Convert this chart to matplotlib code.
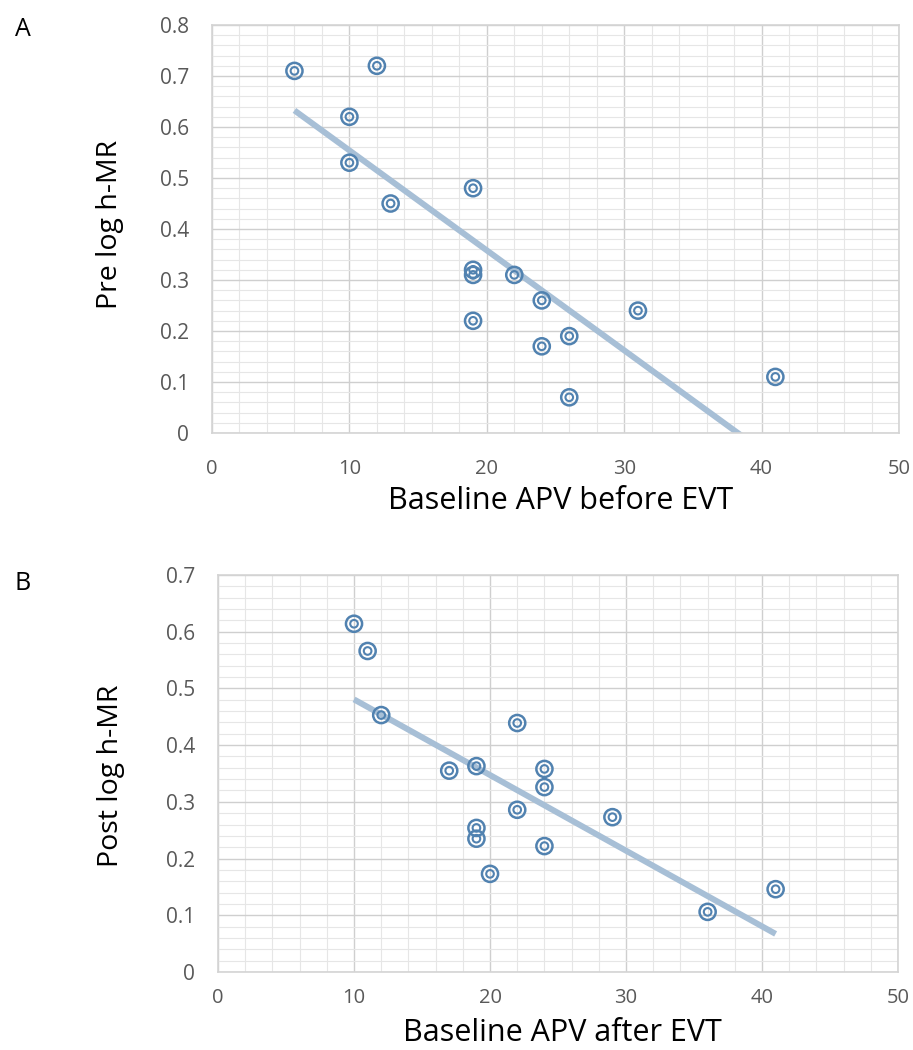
import numpy as np
import matplotlib
matplotlib.use("Agg")
import matplotlib.pyplot as plt
from matplotlib.ticker import MultipleLocator

plt.rcParams['font.family'] = ['Open Sans', 'DejaVu Sans']

# Panel A: baseline APV before EVT vs pre log h-MR
apv_before = [6, 12, 10, 10, 19, 13, 19, 19, 22, 24, 19, 24, 26, 26, 31, 41]
pre_log_hmr = [0.71, 0.72, 0.62, 0.53, 0.48, 0.45, 0.32, 0.31, 0.31, 0.26,
               0.22, 0.17, 0.19, 0.07, 0.24, 0.11]

# Panel B: baseline APV after EVT vs post log h-MR
apv_after = [10, 11, 12, 22, 17, 19, 24, 24, 22, 19, 19, 24, 20, 29, 36, 41]
post_log_hmr = [0.614, 0.566, 0.453, 0.439, 0.355, 0.363, 0.358, 0.326, 0.286,
                0.254, 0.235, 0.222, 0.173, 0.273, 0.106, 0.146]

MARK = '#5182b0'
TREND = '#a7bfd6'
TICK = '#595959'


def draw_panel(ax, x, y, ymax, xlabel, ylabel, xl_pos, yl_pos, xpad):
    x = np.array(x)
    y = np.array(y)

    # Linear trendline (like Excel), from min x to max x
    k, b = np.polyfit(x, y, 1)
    xs = np.array([x.min(), x.max()])
    ax.plot(xs, k * xs + b, color=TREND, lw=4.3, solid_capstyle='butt', zorder=2)

    # double-circle markers
    ax.scatter(x, y, s=135, facecolors='none', edgecolors=MARK, linewidths=1.8, zorder=3)
    ax.scatter(x, y, s=30, facecolors='none', edgecolors=MARK, linewidths=1.5, zorder=3)

    ax.set_xlim(0, 50)
    ax.set_ylim(0, ymax)
    ax.xaxis.set_major_locator(MultipleLocator(10))
    ax.xaxis.set_minor_locator(MultipleLocator(2))
    ax.yaxis.set_major_locator(MultipleLocator(0.1))
    ax.yaxis.set_minor_locator(MultipleLocator(0.02))
    ax.set_yticklabels([f"{v:g}" for v in np.round(ax.get_yticks(), 1)])

    ax.grid(which='major', color='#cfcfcf', lw=1.0, zorder=0)
    ax.grid(which='minor', color='#e6e6e6', lw=0.8, zorder=0)
    ax.set_axisbelow(True)
    for sp in ax.spines.values():
        sp.set_color('#d4d4d4')
        sp.set_linewidth(1.2)

    ax.tick_params(which='both', length=0, labelcolor=TICK)
    ax.tick_params(axis='x', pad=xpad, labelsize=14.5)
    ax.tick_params(axis='y', pad=16.5, labelsize=15)

    ax.set_xlabel(xlabel, fontsize=22, color='black')
    ax.set_ylabel(ylabel, fontsize=20.5, color='black')
    ax.xaxis.set_label_coords(*xl_pos)
    ax.yaxis.set_label_coords(*yl_pos)
    ax.xaxis.label.set_va('baseline')
    ax.yaxis.label.set_va('center')


fig = plt.figure(figsize=(9.13, 10.5), dpi=100)
ax_a = fig.add_axes([0.2322, 0.5876, 0.7525, 0.3886])
ax_b = fig.add_axes([0.2388, 0.0743, 0.7448, 0.3781])

draw_panel(ax_a, apv_before, pre_log_hmr, 0.8, 'Baseline APV before EVT', 'Pre log h-MR',
           (0.507, -0.186), (-0.148, 0.51), 19)
draw_panel(ax_b, apv_after, post_log_hmr, 0.7, 'Baseline APV after EVT', 'Post log h-MR',
           (0.506, -0.174), (-0.157, 0.494), 11.5)

fig.text(23 / 913, 1 - 29 / 1050, 'A', fontsize=18, ha='center', va='center')
fig.text(23 / 913, 1 - 583 / 1050, 'B', fontsize=18, ha='center', va='center')

fig.savefig('out.png', dpi=100)
